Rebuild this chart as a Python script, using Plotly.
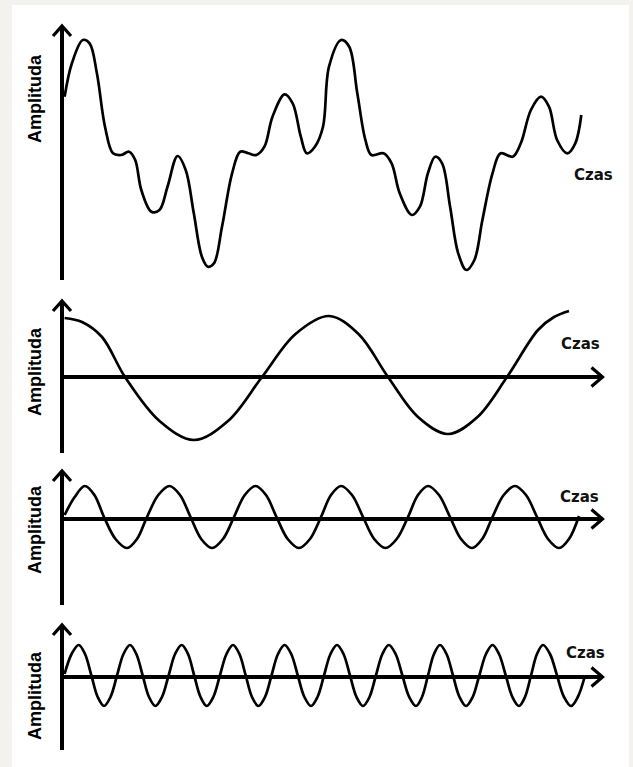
import plotly.graph_objects as go

W, H = 633, 767

# ---------------- data (time offset from the vertical axis, amplitude up from the baseline) ----------------
# Panel 1: composite signal
t1 = [2.6, 9.9, 20.8, 27.6, 34.9, 43, 51, 59.1, 67.2, 73.2, 79.3, 89.4, 97.5, 105.5, 115.6, 123.7,
      131.8, 139.9, 145.9, 152, 160, 170.1, 178.2, 186.3, 194.4, 202.4, 210.5, 222.6, 230.7, 238.8,
      244.8, 252.9, 261, 267, 279.1, 287.2, 295.3, 303.4, 309.4, 321.5, 329.6, 337.7, 349.8, 357.9,
      365.9, 373.2, 380.1, 388.1, 396.2, 404.3, 412.4, 420.4, 430.5, 438.6, 450.7, 458.8, 468.9,
      479, 487, 495.1, 505.2, 513.3, 519.3]
a1 = [63.3, 96.7, 120, 116.7, 86.7, 33.3, 6.7, 5, 8.3, 0, -30, -51.7, -50, -26.7, 4, -10,
      -53.3, -96.7, -106.7, -103.3, -66.7, -13.3, 8.3, 6.7, 5, 13.3, 43.3, 65.7, 56.7, 23.3,
      6.7, 13.3, 33.3, 93.3, 120, 113.3, 66.7, 20, 5, 6.7, -3.3, -33.3, -55, -46.7,
      -13.3, 3.3, -3.3, -46.7, -93.3, -110, -100, -60, -13.3, 6.7, 3.3, 16.7, 50,
      63.3, 53.3, 20, 6.7, 16.7, 45]

# Panel 2: slow wave
t2 = [2.6, 20, 40, 63, 97.5, 132, 166, 200, 233.5, 267, 296.5, 326, 356, 386, 415.5, 445, 476, 492, 507]
a2 = [59, 55, 40, 0, -44, -63, -44, 0, 43, 61, 43, 0, -40, -57, -40, 0, 47, 60, 66]

# Panel 3: medium wave
t3 = [2.6, 12.7, 22.8, 32.4, 42, 53.5, 65, 75, 85, 96.3, 107.6, 118, 128.5, 139.2, 150, 161,
      172, 182.8, 193.6, 204, 214.5, 225.7, 237, 248, 259, 269, 279, 290, 301, 312.2, 323.5,
      334.7, 346, 356, 366, 377, 388, 399, 410, 420.2, 430.5, 441.7, 453, 464, 475, 486, 497,
      507, 517]
a3 = [4, 22, 33, 24, 2, -20, -29, -20, 2, 24, 33, 24, 2, -20, -29, -20,
      2, 24, 33, 24, 2, -20, -29, -20, 2, 24, 33, 24, 2, -20, -29,
      -20, 2, 24, 33, 24, 2, -20, -29, -20, 2, 24, 33, 24, 2, -20, -29,
      -20, 3]

# Panel 4: fast wave
t4 = [2.6, 9.6, 16.7, 23, 29.4, 35.7, 42, 48.5, 55, 61.5, 68, 74.3, 80.7, 87, 93.4, 100,
      106.6, 113.1, 119.7, 126, 132.2, 138.5, 144.7, 151.3, 157.9, 164.5, 171, 177.4, 183.7,
      190, 196.4, 203, 209.5, 216, 222.6, 229.2, 235.8, 242.4, 249, 255.5, 262, 268.5, 275,
      281.5, 288, 294.5, 301, 307.5, 313.9, 320.4, 326.8, 333.6, 340.4, 347.2, 354, 360, 366,
      372, 378, 384.5, 391, 397.5, 404, 410.7, 417.3, 424, 430.5, 437, 443.8, 450.4, 457, 463,
      469, 475, 481, 488, 495, 502, 509, 515.8, 522.6]
a4 = [3, 23, 32, 23, 1.5, -20, -29, -20, 1.5, 23, 32, 23, 1.5, -20, -29, -20,
      1.5, 23, 32, 23, 1.5, -20, -29, -20, 1.5, 23, 32, 23, 1.5,
      -20, -29, -20, 1.5, 23, 32, 23, 1.5, -20, -29, -20, 1.5, 23, 32,
      23, 1.5, -20, -29, -20, 1.5, 23, 32, 23, 1.5, -20, -29, -20, 1.5,
      23, 32, 23, 1.5, -20, -29, -20, 1.5, 23, 32, 23, 1.5, -20, -29, -20,
      1.5, 23, 32, 23, 1.5, -20, -29, -20, 0]

y_label = "Amplituda"
x_label = "Czas"

# ---------------- layout geometry (pixels) ----------------
AXIS_X = 62          # vertical axis position
baselines = [160, 377, 519, 677]   # pixel row of each panel's zero amplitude
vaxis = [(25, 280), (300, 453), (470, 605), (624, 750)]
haxis_panels = [1, 2, 3]           # panels with a horizontal time axis
HAX_END = 603.5
ylab_pos = [(35, 99), (35, 372), (35, 530), (35, 696)]
xlab_pos = [(593, 175), (580, 344), (579, 497), (585, 653)]

def px(x):
    return x / W

def py(y):
    return 1 - y / H

fig = go.Figure()
series = [(t1, a1), (t2, a2), (t3, a3), (t4, a4)]
for i, (t, a) in enumerate(series):
    n = "" if i == 0 else str(i + 1)
    fig.add_trace(go.Scatter(
        x=t, y=a, mode="lines",
        line=dict(color="black", width=2.7, shape="spline", smoothing=1.0),
        xaxis="x" + n, yaxis="y" + n, showlegend=False, hoverinfo="skip"))
    base = baselines[i]
    fig.layout["xaxis" + n] = dict(domain=[0, 1], range=[-AXIS_X, W - AXIS_X], visible=False,
                                   anchor="y" + n, fixedrange=True)
    fig.layout["yaxis" + n] = dict(domain=[0, 1], range=[base - H, base], visible=False,
                                   anchor="x" + n, fixedrange=True)

shapes = []
# white card
shapes.append(dict(type="rect", xref="paper", yref="paper", layer="below",
                   x0=px(12), x1=px(629), y0=0, y1=py(5),
                   fillcolor="white", line=dict(width=0)))

def seg(x0, y0, x1, y1, w):
    return dict(type="line", xref="paper", yref="paper", x0=px(x0), y0=py(y0), x1=px(x1), y1=py(y1),
                line=dict(color="black", width=w))

def path(points, w):
    d = "M " + " L ".join(f"{px(x)},{py(y)}" for x, y in points)
    return dict(type="path", xref="paper", yref="paper", path=d,
                line=dict(color="black", width=w))

for i, (top, bot) in enumerate(vaxis):
    shapes.append(seg(AXIS_X, top + 1, AXIS_X, bot, 4))
    shapes.append(path([(AXIS_X - 9, top + 11), (AXIS_X, top + 1), (AXIS_X + 9, top + 11)], 3.2))
    if i in haxis_panels:
        yb = baselines[i]
        shapes.append(seg(AXIS_X, yb, HAX_END - 1, yb, 4))
        shapes.append(path([(HAX_END - 12, yb - 9.5), (HAX_END - 1, yb), (HAX_END - 12, yb + 9.5)], 3.2))

annotations = []
for (x, y) in ylab_pos:
    annotations.append(dict(text=y_label, x=px(x), y=py(y), xref="paper", yref="paper",
                            showarrow=False, textangle=-90, xanchor="center", yanchor="middle",
                            font=dict(family="Liberation Sans, Arial, sans-serif", size=18,
                                      color="black", weight="bold")))
for (x, y) in xlab_pos:
    annotations.append(dict(text=x_label, x=px(x), y=py(y), xref="paper", yref="paper",
                            showarrow=False, xanchor="center", yanchor="middle",
                            font=dict(family="DejaVu Sans, sans-serif", size=15,
                                      color="#111111", weight="bold")))

fig.update_layout(width=W, height=H, margin=dict(l=0, r=0, t=0, b=0),
                  paper_bgcolor="#f4f2ee", plot_bgcolor="rgba(0,0,0,0)",
                  shapes=shapes, annotations=annotations, showlegend=False)

fig.write_html("out.html", config={"displayModeBar": False},
               post_script="document.body.style.margin='0';document.body.style.overflow='hidden';")
